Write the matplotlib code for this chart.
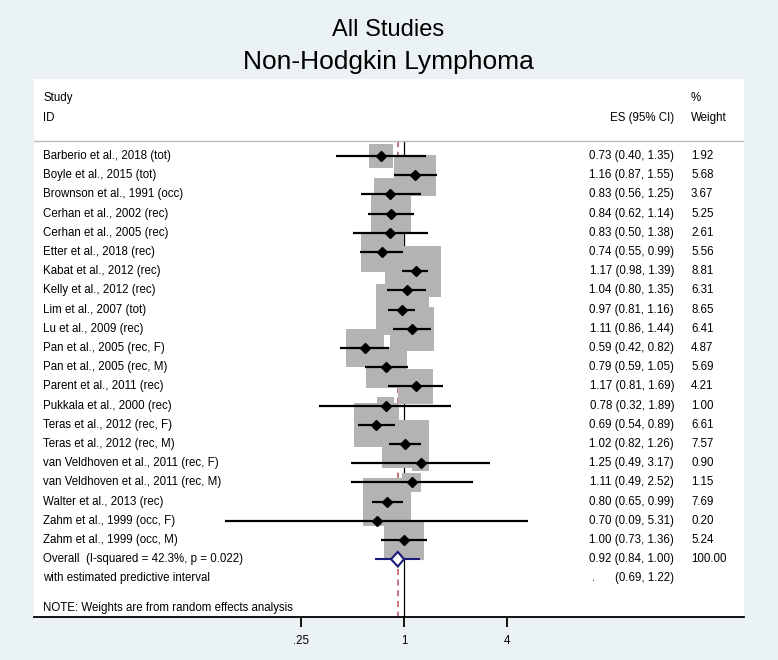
import numpy as np
import matplotlib
matplotlib.use("Agg")
import matplotlib.pyplot as plt

studies = ["Barberio et al., 2018 (tot)", "Boyle et al., 2015 (tot)", "Brownson et al., 1991 (occ)",
           "Cerhan et al., 2002 (rec)", "Cerhan et al., 2005 (rec)", "Etter et al., 2018 (rec)",
           "Kabat et al., 2012 (rec)", "Kelly et al., 2012 (rec)", "Lim et al., 2007 (tot)",
           "Lu et al., 2009 (rec)", "Pan et al., 2005 (rec, F)", "Pan et al., 2005 (rec, M)",
           "Parent et al., 2011 (rec)", "Pukkala et al., 2000 (rec)", "Teras et al., 2012 (rec, F)",
           "Teras et al., 2012 (rec, M)", "van Veldhoven et al., 2011 (rec, F)",
           "van Veldhoven et al., 2011 (rec, M)", "Walter et al., 2013 (rec)",
           "Zahm et al., 1999 (occ, F)", "Zahm et al., 1999 (occ, M)"]
es = [0.73, 1.16, 0.83, 0.84, 0.83, 0.74, 1.17, 1.04, 0.97, 1.11, 0.59, 0.79, 1.17, 0.78, 0.69,
      1.02, 1.25, 1.11, 0.80, 0.70, 1.00]
lo = [0.40, 0.87, 0.56, 0.62, 0.50, 0.55, 0.98, 0.80, 0.81, 0.86, 0.42, 0.59, 0.81, 0.32, 0.54,
      0.82, 0.49, 0.49, 0.65, 0.09, 0.73]
hi = [1.35, 1.55, 1.25, 1.14, 1.38, 0.99, 1.39, 1.35, 1.16, 1.44, 0.82, 1.05, 1.69, 1.89, 0.89,
      1.26, 3.17, 2.52, 0.99, 5.31, 1.36]
weights = [1.92, 5.68, 3.67, 5.25, 2.61, 5.56, 8.81, 6.31, 8.65, 6.41, 4.87, 5.69, 4.21, 1.00,
           6.61, 7.57, 0.90, 1.15, 7.69, 0.20, 5.24]
overall = (0.92, 0.84, 1.00)
predictive = (0.69, 1.22)
overall_label = "Overall  (I-squared = 42.3%, p = 0.022)"
pred_label = "with estimated predictive interval"
note = "NOTE: Weights are from random effects analysis"
xticks = [0.25, 1, 4]
xticklabels = [".25", "1", "4"]

plt.rcParams['font.family'] = ['Liberation Sans', 'DejaVu Sans']
W, H = 778, 660
fig = plt.figure(figsize=(W / 100, H / 100), dpi=100)
fig.patch.set_facecolor('#EAF2F3')

# white plot region (pixels)
left, right, top, bottom = 34, 744, 79, 617
ax = fig.add_axes([left / W, 1 - bottom / H, (right - left) / W, (bottom - top) / H])
ax.set_facecolor('white')

px_per_oct = 51.5
x1px = 404
xlo = 2 ** ((left - x1px) / px_per_oct)
xhi = 2 ** ((right - x1px) / px_per_oct)
ax.set_xscale('log', base=2)
ax.set_xlim(xlo, xhi)
row0, step = 156, 19.2
ax.set_ylim((bottom - row0) / step, (top - row0) / step)

for s in ['top', 'left', 'right']:
    ax.spines[s].set_visible(False)
ax.spines['bottom'].set_linewidth(1.3)
ax.set_yticks([])
ax.set_xticks(xticks)
ax.set_xticklabels(xticklabels, fontsize=8.3)
ax.minorticks_off()
ax.tick_params(axis='x', length=7, width=1.3, pad=6)

n = len(studies)
ypos = np.arange(n)
yo = n
yp = n + 1
sep_y = (141 - row0) / step

# reference lines (behind boxes)
ax.plot([1, 1], [sep_y, (bottom - row0) / step], color='black', lw=0.9, zorder=1)
ax.plot([overall[0], overall[0]], [sep_y, (bottom - row0) / step], color='#B5515C', lw=1.1,
        ls=(0, (4, 3)), zorder=1)
ax.axhline(sep_y, color='#BBBBBB', lw=1.0, zorder=1)

# weight boxes
ax.scatter(es, ypos, s=np.array(weights) * 155, marker='s', color='#B3B3B3',
           edgecolors='none', zorder=2)
# CIs and point estimates
for i in range(n):
    ax.plot([lo[i], hi[i]], [ypos[i], ypos[i]], color='black', lw=1.6, zorder=3,
            solid_capstyle='butt')
ax.plot(es, ypos, 'D', color='black', ms=4.6, zorder=4)

# overall
navy = '#1A1A7A'
ax.plot(list(predictive), [yo, yo], color=navy, lw=1.5, zorder=3)
dh = 7.3 / step
ax.fill([overall[1], overall[0], overall[2], overall[0], overall[1]],
        [yo, yo - dh, yo, yo + dh, yo], facecolor='white', edgecolor=navy, lw=1.5, zorder=5)

# texts
tf = lambda px: (px - left) / (right - left)
import matplotlib.transforms as mt
tr = mt.blended_transform_factory(ax.transAxes, ax.transData)
fs = 8.3
hy1 = (98 - row0) / step
hy2 = (118 - row0) / step
ax.text(tf(43), hy1, "Study", transform=tr, fontsize=fs, va='center')
ax.text(tf(43), hy2, "ID", transform=tr, fontsize=fs, va='center')
ax.text(tf(674), hy2, "ES (95% CI)", transform=tr, fontsize=fs, va='center', ha='right')
ax.text(tf(691), hy1, "%", transform=tr, fontsize=fs, va='center')
ax.text(tf(691), hy2, "Weight", transform=tr, fontsize=fs, va='center')
for i in range(n):
    ax.text(tf(43), ypos[i], studies[i], transform=tr, fontsize=fs, va='center')
    ax.text(tf(674), ypos[i], f"{es[i]:.2f} ({lo[i]:.2f}, {hi[i]:.2f})", transform=tr,
            fontsize=fs, va='center', ha='right')
    ax.text(tf(691), ypos[i], f"{weights[i]:.2f}", transform=tr, fontsize=fs, va='center')
ax.text(tf(43), yo, overall_label, transform=tr, fontsize=fs, va='center')
ax.text(tf(674), yo, f"{overall[0]:.2f} ({overall[1]:.2f}, {overall[2]:.2f})", transform=tr,
        fontsize=fs, va='center', ha='right')
ax.text(tf(691), yo, "100.00", transform=tr, fontsize=fs, va='center')
ax.text(tf(43), yp, pred_label, transform=tr, fontsize=fs, va='center')
ax.text(tf(592), yp, ".", transform=tr, fontsize=fs, va='center')
ax.text(tf(674), yp, f"({predictive[0]:.2f}, {predictive[1]:.2f})", transform=tr,
        fontsize=fs, va='center', ha='right')
ax.text(tf(43), (608 - row0) / step, note, transform=tr, fontsize=fs, va='center')

fig.text(388 / W, 1 - 30 / H, "All Studies", ha='center', va='center', fontsize=17)
fig.text(388 / W, 1 - 62 / H, "Non-Hodgkin Lymphoma", ha='center', va='center', fontsize=19)

fig.savefig("out.png", dpi=100, facecolor=fig.get_facecolor())
